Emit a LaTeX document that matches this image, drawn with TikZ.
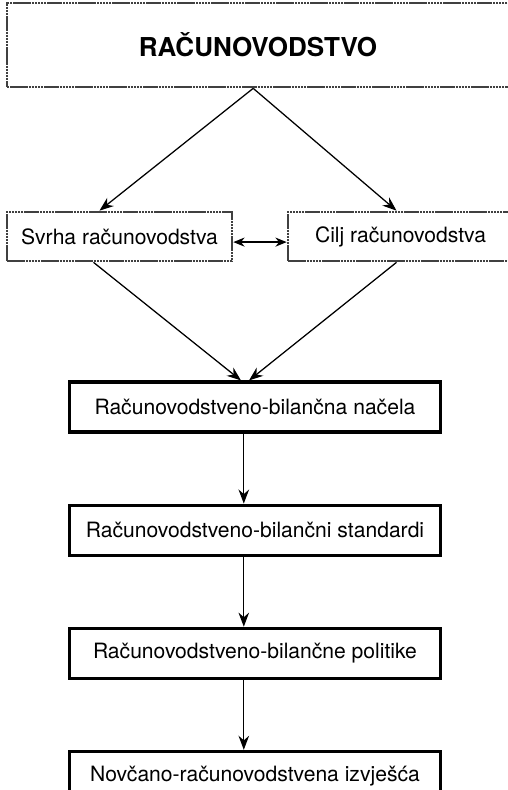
\documentclass[tikz,border=0pt]{standalone}
\usepackage{fontspec}
\setsansfont{TeX Gyre Heros}
\usepackage{tikz}
\usetikzlibrary{arrows.meta}
\usetikzlibrary{positioning}
\tikzset{
  boxnode/.style = {align=center, inner sep=0pt, text centered,
    font=\sffamily\fontsize{15}{18}\selectfont},
  rac_s/.style = {boxnode, rectangle, draw=black!75, line width=1.9pt,
    dash pattern=on 1.8pt off 0.4pt},% sivi okvir
  rac_c/.style = {boxnode, rectangle, draw=black, line width=2.2pt,
    minimum width=9.25cm, minimum height=1.25cm},% crni okvir
  veza/.style = {-{Stealth[length=10pt,width=7.5pt]}, line width=0.9pt}
}

\begin{document}
\begin{tikzpicture}[x=0.025cm,y=-0.025cm,node distance=1.75cm]
\useasboundingbox (0,0) rectangle (507,790);

\node [rac_s, minimum width=12.55cm, minimum height=2.1cm,
  font=\sffamily\bfseries\fontsize{18.5}{22}\selectfont] (rac) at (258,45) {RAČUNOVODSTVO};
\node [rac_s, minimum width=5.625cm, minimum height=1.225cm] (svrha) at (119.5,236.5) {Svrha računovodstva};
\node [rac_s, minimum width=5.625cm, minimum height=1.225cm] (cilj) at (400.5,236.5) {Cilj računovodstva};

\node [rac_c] (nacela) at (255,407) {Računovodstveno-bilančna načela};
\node [rac_c, below=of nacela] (standardi) {Računovodstveno-bilančni standardi};
\node [rac_c, below=of standardi] (politike) {Računovodstveno-bilančne politike};
\node [rac_c, below=of politike] (izvjesca) {Novčano-računovodstvena izvješća};

\coordinate (vrh) at ([xshift=-0.12cm]rac.south);
\draw[veza] (vrh) -- ([xshift=-0.5cm]svrha.north);
\draw[veza] (vrh) -- ([xshift=-0.1cm]cilj.north);
\draw[{Stealth[length=8pt,width=6.5pt]}-{Stealth[length=8pt,width=6.5pt]}, line width=0.9pt]
  ([yshift=-0.14cm]svrha.east) -- ([yshift=-0.14cm]cilj.west);

\draw[veza] ([xshift=-0.65cm]svrha.south) -- ([xshift=-0.35cm]nacela.north);
\draw[veza] ([xshift=-0.1cm]cilj.south) -- ([xshift=-0.15cm]nacela.north);

\draw[veza] ([xshift=-0.28cm]nacela.south) -- ([xshift=-0.28cm]standardi.north);
\draw[veza] ([xshift=-0.28cm]standardi.south) -- ([xshift=-0.28cm]politike.north);
\draw[veza] ([xshift=-0.28cm]politike.south) -- ([xshift=-0.28cm]izvjesca.north);
\end{tikzpicture}
\end{document}
